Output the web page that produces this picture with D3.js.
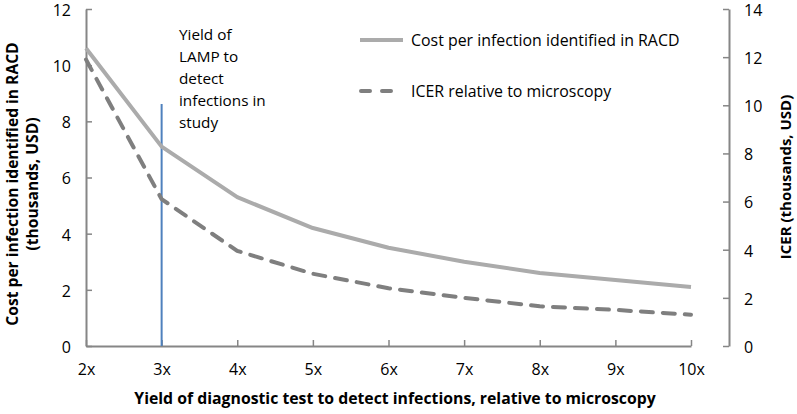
<!DOCTYPE html>
<html><head><meta charset="utf-8">
<script src="https://cdn.jsdelivr.net/npm/d3@7"></script>
<style>
body{margin:0;background:#fff;}
text{font-family:"Open Sans",sans-serif;fill:#000;}
</style></head>
<body><svg id="c" width="797" height="414"></svg>
<script>
const categories = ["2x","3x","4x","5x","6x","7x","8x","9x","10x"];
const costValues = [10.6, 7.1, 5.3, 4.2, 3.5, 3.0, 2.6, 2.35, 2.1];
const icerValues = [11.9, 6.1, 3.95, 3.0, 2.4, 2.0, 1.65, 1.5, 1.3];
const leftTicks = [0,2,4,6,8,10,12];
const rightTicks = [0,2,4,6,8,10,12,14];
const studyCategory = "3x";
const seriesNames = ["Cost per infection identified in RACD","ICER relative to microscopy"];

const FONT = "'Open Sans', sans-serif";
const svg = d3.select("#c");
const axisColor = "#868686";
const x = d3.scalePoint().domain(categories).range([86, 691]);
const yL = d3.scaleLinear().domain([0,12]).range([346, 9]);
const yR = d3.scaleLinear().domain([0,14]).range([346, 9]);

const gL = svg.append("g").attr("transform","translate(86,0)")
  .call(d3.axisLeft(yL).tickValues(leftTicks).tickSizeInner(-6).tickSizeOuter(0).tickPadding(15));
const gR = svg.append("g").attr("transform","translate(729,0)")
  .call(d3.axisRight(yR).tickValues(rightTicks).tickSizeInner(-6).tickSizeOuter(0).tickPadding(15));
const gX = svg.append("g").attr("transform","translate(0,346)")
  .call(d3.axisBottom(x).tickSizeInner(-6).tickSizeOuter(0).tickPadding(18));

[gL,gR,gX].forEach(g=>{
  g.select(".domain").attr("stroke",axisColor).attr("stroke-width",2);
  g.selectAll(".tick line").attr("stroke",axisColor).attr("stroke-width",1.5);
  g.selectAll(".tick text").attr("font-size",16).attr("font-family",FONT).attr("fill","#000");
});
gL.selectAll(".tick text").attr("dy","0.4em");
gR.selectAll(".tick text").attr("dy","0.4em");

svg.append("line").attr("x1",x(studyCategory)).attr("x2",x(studyCategory))
  .attr("y1",104).attr("y2",346).attr("stroke","#4F81BD").attr("stroke-width",2);

const lineL = d3.line().x((d,i)=>x(categories[i])).y(d=>yL(d));
const lineR = d3.line().x((d,i)=>x(categories[i])).y(d=>yR(d));
svg.append("path").datum(costValues).attr("d",lineL).attr("fill","none")
  .attr("stroke","#ABABAB").attr("stroke-width",4).attr("stroke-linejoin","round");
svg.append("path").datum(icerValues).attr("d",lineR).attr("fill","none")
  .attr("stroke","#7F7F7F").attr("stroke-width",4).attr("stroke-dasharray","12,10").attr("stroke-linecap","round");

const ann = ["Yield of","LAMP to","detect","infections in","study"];
svg.append("text").attr("x",179).attr("y",35).attr("font-size",15.3)
  .selectAll("tspan").data(ann).join("tspan").attr("x",179).attr("dy",(d,i)=>i?22:5).text(d=>d);

const lg = svg.append("g");
lg.append("line").attr("x1",360).attr("x2",403).attr("y1",40).attr("y2",40)
  .attr("stroke","#ABABAB").attr("stroke-width",4);
lg.append("text").attr("x",411).attr("y",46).attr("font-size",15.9).text(seriesNames[0]);
lg.append("line").attr("x1",361).attr("x2",403).attr("y1",91).attr("y2",91)
  .attr("stroke","#7F7F7F").attr("stroke-width",4).attr("stroke-dasharray","9,12").attr("stroke-linecap","round");
lg.append("text").attr("x",411).attr("y",97).attr("font-size",15.9).text(seriesNames[1]);

svg.append("text").attr("x",395).attr("y",404).attr("text-anchor","middle")
  .attr("font-size",15.8).attr("font-weight","bold").text("Yield of diagnostic test to detect infections, relative to microscopy");
const lt = svg.append("text").attr("transform","translate(18,184) rotate(-90)").attr("text-anchor","middle")
  .attr("font-size",15.6).attr("font-weight","bold");
lt.append("tspan").attr("x",0).attr("y",0).text("Cost per infection identified in RACD");
lt.append("tspan").attr("x",0).attr("y",20).text("(thousands, USD)");
svg.append("text").attr("transform","translate(791,177) rotate(-90)").attr("text-anchor","middle")
  .attr("font-size",15).attr("font-weight","bold").text("ICER (thousands, USD)");
</script></body></html>
